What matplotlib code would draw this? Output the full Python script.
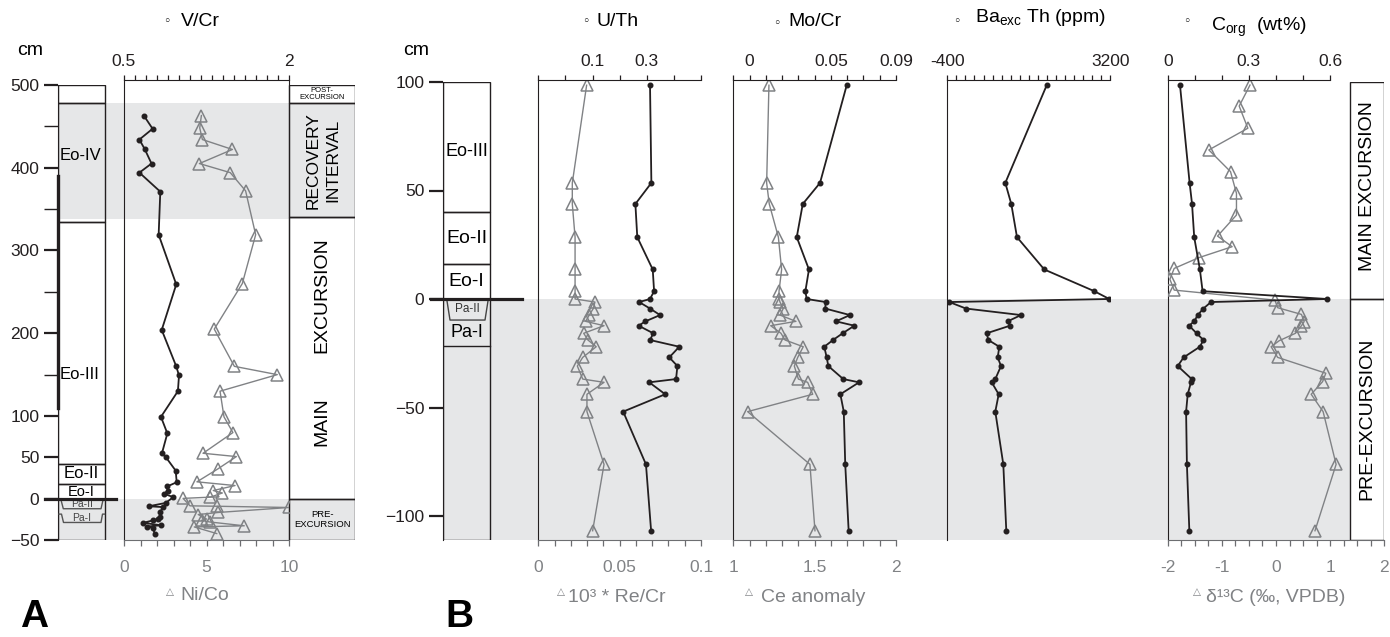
import matplotlib.pyplot as plt
from matplotlib.patches import Rectangle
import numpy as np

plt.rcParams['font.family'] = ['Liberation Sans', 'DejaVu Sans']
plt.rcParams['mathtext.fontset'] = 'custom'
plt.rcParams['mathtext.rm'] = 'Liberation Sans'
plt.rcParams['mathtext.it'] = 'Liberation Sans:italic'

W, H = 1390, 637
INK = '#231f20'
GREY = '#808285'
SHADE = '#e6e7e8'

# ---------------- panel A data (depth in cm) ----------------
a_vcr_depth = [463, 447, 434, 422, 405, 394, 371, 319, 259, 204, 160, 149, 130, 99, 79,
               55, 50, 34, 20, 15, 10, 6, 2, -5, -9, -10, -16, -22, -24.5, -26, -29,
               -32, -33.5, -35, -43]
a_vcr = [0.68, 0.76, 0.64, 0.69, 0.75, 0.64, 0.83, 0.815, 0.975, 0.843, 0.975, 1.0, 0.99,
         0.836, 0.894, 0.845, 0.882, 0.97, 0.979, 0.894, 0.897, 0.866, 0.948, 0.879, 0.725,
         0.852, 0.83, 0.827, 0.806, 0.766, 0.675, 0.836, 0.706, 0.764, 0.78]

a_nico_depth = [463, 448, 434, 422, 405, 394, 372, 319, 260, 205, 160, 150, 130, 99, 80,
                55, 51, 36, 20.5, 16, 10, 7, 2, 0.5, -8.5, -9, -10.5, -16.5, -19, -24.5,
                -26, -28, -32.6, -34, -42]
a_nico = [4.69, 4.59, 4.75, 6.57, 4.57, 6.44, 7.37, 7.98, 7.17, 5.47, 6.69, 9.29, 5.82,
          6.06, 6.6, 4.79, 6.81, 5.68, 4.42, 6.73, 5.41, 5.96, 5.23, 3.58, 4.0, 5.65, 10.0,
          5.72, 4.5, 5.0, 4.7, 5.2, 7.29, 4.26, 5.62]

# ---------------- panel B data (depth in cm) ----------------
b_depth = [98.5, 53.5, 43.8, 28.5, 13.6, 3.6, 0, -1.4, -4.4, -7.4, -10.3, -12.3, -15.8,
           -18.9, -22, -26.9, -30.9, -36.9, -38.4, -43.9, -51.9, -76.2, -106.8]
u_th = [0.312, 0.317, 0.258, 0.265, 0.322, 0.327, 0.312, 0.272, 0.312, 0.349, 0.295, 0.27,
        0.324, 0.312, 0.42, 0.383, 0.413, 0.408, 0.309, 0.368, 0.213, 0.297, 0.316]
re_cr = [0.0297, 0.0209, 0.0209, 0.0226, 0.0226, 0.0226, 0.0226, 0.0348, 0.0338, 0.0313,
         0.0291, 0.0404, 0.0279, 0.0305, 0.0356, 0.0273, 0.024, 0.0273, 0.0404, 0.0299,
         0.0299, 0.0404, 0.0334]
mo_cr = [0.0597, 0.0433, 0.0327, 0.029, 0.0365, 0.0343, 0.0351, 0.0468, 0.0465, 0.0617,
         0.0531, 0.0644, 0.0572, 0.0513, 0.0459, 0.0474, 0.0484, 0.0576, 0.0673, 0.0558,
         0.0579, 0.0588, 0.0609]
ce_anom = [1.219, 1.205, 1.221, 1.277, 1.297, 1.281, 1.281, 1.287, 1.307, 1.287, 1.385,
           1.23, 1.293, 1.318, 1.43, 1.396, 1.375, 1.4, 1.457, 1.488, 1.088, 1.471, 1.502]
ba_exc = [1795, 881, 1013, 1139, 1742, 2847, 3178, -356, 13, 1228, 934, 985, 470, 506, 749,
          713, 786, 660, 581, 735, 660, 837, 903]
c_org = [0.0455, 0.081, 0.09, 0.098, 0.119, 0.129, 0.59, 0.16, 0.132, 0.111, 0.098, 0.079,
         0.107, 0.132, 0.119, 0.059, 0.037, 0.089, 0.086, 0.074, 0.068, 0.071, 0.08]
d13c_depth = [98.6, 88.9, 78.7, 68.7, 58.7, 48.7, 38.7, 29, 24.1, 19, 14.1, 9.1, 4.1, -0.5,
              -4, -7.1, -10.4, -12.3, -15.8, -19.2, -22, -26.9, -34.2, -38.1, -43.9, -51.9,
              -76.2, -106.8]
d13c = [-0.48, -0.68, -0.52, -1.24, -0.84, -0.73, -0.73, -1.08, -0.81, -1.43, -1.88, -1.96,
        -1.88, -0.02, 0.03, 0.47, 0.52, 0.47, 0.36, 0.06, -0.09, 0.03, 0.92, 0.86, 0.65,
        0.87, 1.11, 0.72]

fig = plt.figure(figsize=(13.9, 6.37), dpi=100)


def px_axes(x0, x1, y0, y1):
    return fig.add_axes([x0 / W, 1 - y1 / H, (x1 - x0) / W, (y1 - y0) / H])


def ftext(x, y, s, **kw):
    fig.text(x / W, 1 - y / H, s, **kw)


def ya(d):  # panel A depth -> pixel row
    return 498.8 - 0.8278 * d


def yb(d):  # panel B depth -> pixel row
    return 299.0 - 2.17 * d


def black_line(ax, x, y):
    ax.plot(x, y, color=INK, lw=1.3, marker='o', ms=3.3, mfc=INK, mec=INK, zorder=4)


def grey_line(ax, x, y):
    ax.plot(x, y, color=GREY, lw=1.0, marker='^', ms=8, mfc='none', mec=GREY, mew=1.1, zorder=3)


def base_axes(x0, x1, dtop, dbot, yfun, ticks, minor):
    ax = px_axes(x0, x1, yfun(dtop), yfun(dbot))
    ax.set_xlim(x0, x1)
    ax.set_ylim(dbot, dtop)
    ax.patch.set_visible(False)
    for s in ['top', 'right', 'bottom']:
        ax.spines[s].set_visible(False)
    ax.spines['left'].set_color(INK)
    ax.set_xticks([])
    ax.set_yticks(ticks)
    ax.set_yticks(minor, minor=True)
    ax.tick_params(axis='y', which='both', direction='out', length=10, width=1.6,
                   labelsize=12.5, pad=3.5, colors=INK)
    ax.tick_params(axis='y', which='minor', width=1.0)
    return ax


def data_axes(x0, x1, ytop, ybot, dbot, yfun_inv, right=False, bottom=True):
    ax = px_axes(x0, x1, ytop, ybot)
    ax.set_ylim(dbot, yfun_inv(ytop))
    ax.patch.set_visible(False)
    ax.set_yticks([])
    ax.spines['top'].set_visible(False)
    ax.spines['right'].set_visible(right)
    ax.spines['bottom'].set_visible(bottom)
    ax.spines['left'].set_color(INK)
    ax.spines['right'].set_color(INK)
    ax.spines['bottom'].set_color('#6d6e71')
    ax.tick_params(axis='x', which='both', direction='out', length=4.5, width=0.9,
                   labelsize=12.5, pad=10, colors='#6d6e71', labelcolor=GREY)
    if not bottom:
        ax.set_xticks([])
    top = ax.twiny()
    top.patch.set_visible(False)
    for s in ['left', 'right', 'bottom']:
        top.spines[s].set_visible(False)
    top.spines['top'].set_color(INK)
    top.tick_params(axis='x', which='both', direction='out', length=3.5, width=0.9,
                    labelsize=12.5, pad=4.5, colors=INK)
    return ax, top


def set_ticks(ax, lim, major, minor):
    ax.set_xlim(*lim)
    ax.set_xticks(major)
    ax.set_xticklabels([('%g' % v) for v in major])
    ax.set_xticks(minor, minor=True)


# ====================== PANEL A ======================
baseA = base_axes(58, 355, 500, -50, ya, [500, 400, 300, 200, 100, 50, 0, -50], [450, 350, 250, 150])
baseA.axhspan(338, 478, color=SHADE, lw=0, zorder=0)
baseA.axhspan(-50, 0, color=SHADE, lw=0, zorder=0)
# biozone column
for lo, hi in [(478, 500), (334, 478), (42, 334), (18, 42), (0, 18), (-50, 0)]:
    baseA.add_patch(Rectangle((58, lo), 46.5, hi - lo, fill=False, lw=1, ec=INK, zorder=2))
baseA.plot([58, 58], [110, 390], color=INK, lw=2.4, zorder=3, clip_on=False)
baseA.text(60, 415, 'Eo-IV', fontsize=12, va='center', ha='left')
baseA.text(60, 150, 'Eo-III', fontsize=12, va='center', ha='left')
baseA.text(81, 30, 'Eo-II', fontsize=12, va='center', ha='center')
baseA.text(81, 8, 'Eo-I', fontsize=10.5, va='center', ha='center')
baseA.plot([60.7, 63.3, 101, 103.3], [0, -12, -12, 0], color='#555555', lw=1, zorder=3)
baseA.plot([59, 61.5, 63.5, 101, 102.5, 104.5], [-18.5, -18.5, -28.6, -28.6, -18.5, -18.5],
           color='#555555', lw=1, zorder=3)
baseA.text(82, -6, 'Pa-II', fontsize=7.5, va='center', ha='center', color='#444444')
baseA.text(82, -23.5, 'Pa-I', fontsize=7.5, va='center', ha='center', color='#444444')
baseA.plot([45, 116], [0, 0], color=INK, lw=2.3, zorder=5, clip_on=False)
# interval column
for lo, hi in [(478, 500), (340, 478), (0, 340), (-50, 0)]:
    baseA.add_patch(Rectangle((289, lo), 66, hi - lo, fill=False, lw=1, ec=INK, zorder=2))
baseA.text(322, 489, 'POST-\nEXCURSION', fontsize=5.5, ha='center', va='center', linespacing=1.0)
baseA.text(313, 409, 'RECOVERY', fontsize=12.5, rotation=90, ha='center', va='center')
baseA.text(333, 409, 'INTERVAL', fontsize=12.5, rotation=90, ha='center', va='center')
baseA.text(322, 93, 'MAIN', fontsize=14, rotation=90, ha='center', va='center')
baseA.text(322, 246, 'EXCURSION', fontsize=14, rotation=90, ha='center', va='center')
baseA.text(322, -25, 'PRE-\nEXCURSION', fontsize=6.8, ha='center', va='center', linespacing=1.1)

axA, axA_top = data_axes(124, 289, 80, ya(-50), -50, lambda y: (498.8 - y) / 0.8278, right=True)
set_ticks(axA, (0, 10), [0, 5, 10], np.arange(0, 10.01, 1))
set_ticks(axA_top, (0.5, 2), [0.5, 2], np.arange(0.5, 2.01, 0.1))
grey_line(axA, a_nico, a_nico_depth)
black_line(axA_top, a_vcr, a_vcr_depth)

# ====================== PANEL B ======================
baseB = base_axes(443, 1384.3, 100, -111, yb, [100, 50, 0, -50, -100], [])
baseB.fill_between([443, 1350], -111, 0, color=SHADE, lw=0, zorder=0)
for lo, hi in [(40, 100), (16, 40), (0, 16), (-111, 0)]:
    baseB.add_patch(Rectangle((443, lo), 47, hi - lo, fill=False, lw=1, ec=INK, zorder=2))
baseB.text(466.5, 68, 'Eo-III', fontsize=13, ha='center', va='center')
baseB.text(466.5, 28, 'Eo-II', fontsize=14, ha='center', va='center')
baseB.text(466.5, 8, 'Eo-I', fontsize=14, ha='center', va='center')
baseB.plot([446.7, 450, 485, 488.3], [0, -9.7, -9.7, 0], color='#444444', lw=1, zorder=3)
baseB.text(467.5, -4.6, 'Pa-II', fontsize=8.5, ha='center', va='center', color='#333333')
baseB.text(466.5, -15.6, 'Pa-I', fontsize=13, ha='center', va='center')
baseB.plot([443, 490], [-21.5, -21.5], color=INK, lw=1, zorder=3)
baseB.plot([431, 522], [0, 0], color=INK, lw=2.3, zorder=5, clip_on=False)
for lo, hi in [(0, 100), (-111, 0)]:
    baseB.add_patch(Rectangle((1350, lo), 34.3, hi - lo, fill=False, lw=1, ec=INK, zorder=2))
baseB.text(1367, 52, 'MAIN EXCURSION', fontsize=14, rotation=90, ha='center', va='center')
baseB.text(1367, -55, 'PRE-EXCURSION', fontsize=14, rotation=90, ha='center', va='center')

yb_inv = lambda y: (299.0 - y) / 2.17

b1, b1_top = data_axes(538.3, 701, 80, yb(-111), -111, yb_inv)
set_ticks(b1, (0, 0.1), [0, 0.05, 0.1], np.arange(0, 0.1001, 0.01))
set_ticks(b1_top, (-0.1, 0.5), [0.1, 0.3], np.arange(-0.1, 0.5001, 0.1))
grey_line(b1, re_cr, b_depth)
black_line(b1_top, u_th, b_depth)

b2, b2_top = data_axes(733.3, 896, 80, yb(-111), -111, yb_inv)
set_ticks(b2, (1, 2), [1, 1.5, 2], np.arange(1, 2.001, 0.1))
set_ticks(b2_top, (-0.01, 0.09), [0, 0.05, 0.09], np.arange(-0.01, 0.0901, 0.01))
grey_line(b2, ce_anom, b_depth)
black_line(b2_top, mo_cr, b_depth)

b3, b3_top = data_axes(947.3, 1110.3, 80, yb(-111), -111, yb_inv, bottom=False)
set_ticks(b3_top, (-400, 3200), [-400, 3200], np.arange(-400, 3201, 200))
black_line(b3_top, ba_exc, b_depth)

b4, b4_top = data_axes(1167.7, 1384.3, 80, yb(-111), -111, yb_inv)
set_ticks(b4, (-2, 2), [-2, -1, 0, 1, 2], np.arange(-2, 2.001, 0.25))
set_ticks(b4_top, (0, 0.6 * 216.6 / 162.3), [0, 0.3, 0.6], np.arange(0, 0.601, 0.1))
b4_top.spines['top'].set_bounds(0, 0.6)
grey_line(b4, d13c, d13c_depth)
black_line(b4_top, c_org, b_depth)

# ====================== titles / labels ======================
for x, y in [(167, 22), (586, 22), (777, 23), (957, 22), (1187, 22)]:
    ftext(x, y, '\u25e6', fontsize=9, ha='center', va='center', family=['DejaVu Sans'])
ftext(181, 22, 'V/Cr', fontsize=14, ha='left', va='center')
ftext(597, 22, 'U/Th', fontsize=14, ha='left', va='center')
ftext(788, 22, 'Mo/Cr', fontsize=14, ha='left', va='center')
ftext(975, 18, r'Ba$_{\mathregular{exc}}$ Th (ppm)', fontsize=14, ha='left', va='center')
ftext(1211, 27, r'C$_{\mathregular{org}}$  (wt%)', fontsize=14, ha='left', va='center')
ftext(30, 55, 'cm', fontsize=14, ha='center', va='baseline')
ftext(416, 55, 'cm', fontsize=14, ha='center', va='baseline')

for x in [170, 561, 749, 1197]:
    ftext(x, 592, '\u25b3', fontsize=7.5, ha='center', va='center', color=GREY, family=['DejaVu Sans'])
ftext(180, 596, 'Ni/Co', fontsize=14, ha='left', va='center', color=GREY)
ftext(568, 597, '10\u00b3 * Re/Cr', fontsize=14, ha='left', va='center', color=GREY)
ftext(761, 597, 'Ce anomaly', fontsize=14, ha='left', va='center', color=GREY)
ftext(1206, 597, '\u03b4\u00b9\u00b3C (\u2030, VPDB)', fontsize=14, ha='left', va='center', color=GREY)

ftext(20, 635, 'A', fontsize=28, fontweight='bold', ha='left', va='bottom')
ftext(445, 635, 'B', fontsize=28, fontweight='bold', ha='left', va='bottom')

fig.savefig('out.png', dpi=100)
